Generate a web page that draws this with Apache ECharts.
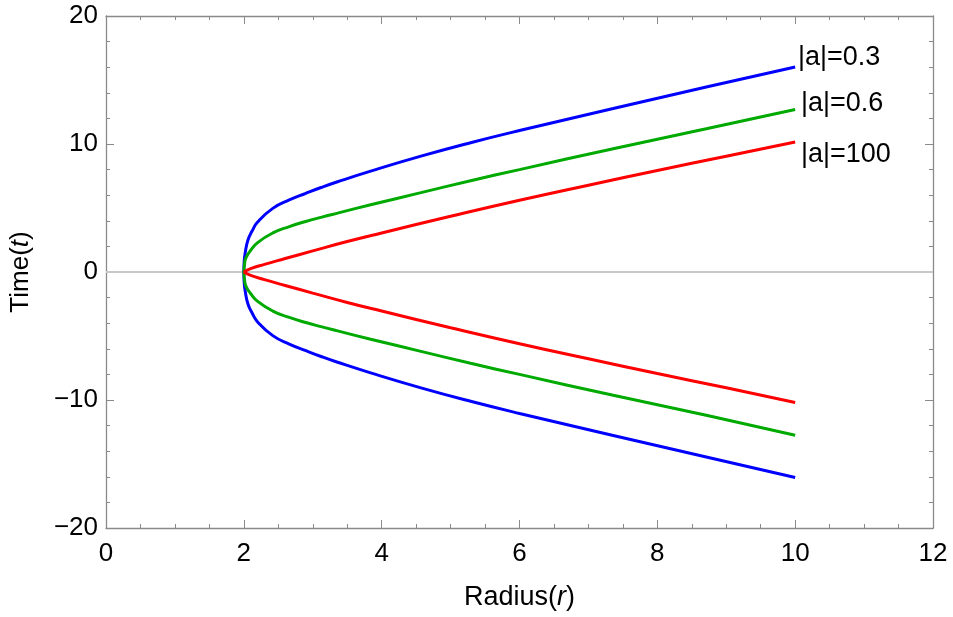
<!DOCTYPE html>
<html>
<head>
<meta charset="utf-8">
<script src="https://cdn.jsdelivr.net/npm/echarts@6/dist/echarts.min.js"></script>
<style>
  html, body { margin: 0; padding: 0; background: #fff; }
  #chart { width: 953px; height: 617px; }
</style>
</head>
<body>
<div id="chart"></div>
<script>
// radius samples and time values (upper and lower branches)
const blueR = [2, 2.005, 2.02, 2.06, 2.12, 2.2, 2.42, 2.66, 2.9, 3.12, 3.36, 3.84, 4.57, 5.29, 6, 7.36, 8.71, 10]
const blueUpper = [0, 0.8, 1.5, 2.5, 3.2, 3.9, 4.97, 5.63, 6.15, 6.6, 7.05, 7.88, 9.05, 10.1, 11.05, 12.77, 14.45, 16.02]
const blueLower = [0, -0.8, -1.5, -2.5, -3.2, -3.9, -4.97, -5.63, -6.15, -6.6, -7.05, -7.88, -9.05, -10.1, -11.05, -12.77, -14.45, -16.05]

const greenR = [2, 2.01, 2.03, 2.1, 2.2, 2.42, 2.66, 2.9, 3.12, 3.36, 3.84, 4.57, 5.29, 6, 7.36, 8.71, 10]
const greenUpper = [0, 0.6, 1.1, 1.7, 2.3, 3.05, 3.55, 3.95, 4.27, 4.6, 5.25, 6.2, 7.13, 8.0, 9.63, 11.19, 12.7]
const greenLower = [0, -0.6, -1.1, -1.7, -2.3, -3.05, -3.55, -3.95, -4.27, -4.6, -5.25, -6.2, -7.13, -8.0, -9.63, -11.19, -12.75]

const redR = [2, 2.1, 2.3, 2.6, 3, 3.5, 4, 5, 6, 7, 8, 9, 10]
const redUpper = [0, 0.27, 0.6, 1.05, 1.65, 2.38, 3.05, 4.35, 5.6, 6.78, 7.93, 9.05, 10.15]
const redLower = [0, -0.27, -0.6, -1.05, -1.65, -2.38, -3.05, -4.35, -5.6, -6.78, -7.93, -9.05, -10.2]

const xTicks = { min: 0, max: 12, interval: 2 }
const yTicks = { min: -20, max: 20, interval: 10 }

const FONT = 'Liberation Sans, Arial, sans-serif'
const AXIS_GRAY = '#8a8a8a'

const pairs = (xs, ys) => xs.map((x, i) => [x, ys[i]])

const curve = (name, color, xs, ys) => ({
  name,
  type: 'line',
  data: pairs(xs, ys),
  showSymbol: false,
  smooth: 0.5,
  lineStyle: { color, width: 3 },
  z: 3
})

const frameAxis = (extra) => Object.assign({
  type: 'value',
  axisLine: { onZero: false, lineStyle: { color: AXIS_GRAY, width: 1.3 } },
  axisTick: { inside: true, length: 8, lineStyle: { color: AXIS_GRAY } },
  minorTick: { show: true, length: 4, lineStyle: { color: AXIS_GRAY } },
  splitLine: { show: false },
  minorSplitLine: { show: false }
}, extra)

const nameRich = (size) => ({
  rich: {
    n: { fontSize: size, fontFamily: FONT, color: '#000' },
    i: { fontSize: size, fontFamily: FONT, color: '#000', fontStyle: 'italic' }
  }
})

const chart = echarts.init(document.getElementById('chart'))

chart.setOption({
  animation: false,
  grid: { left: 104, right: 20, top: 16, bottom: 89 },
  xAxis: [
    frameAxis({
      ...xTicks,
      position: 'bottom',
      minorTick: { show: true, splitNumber: 4, length: 4, lineStyle: { color: AXIS_GRAY } },
      axisLabel: { color: '#000', fontSize: 26, fontFamily: FONT, margin: 13 },
      name: '{n|Radius(}{i|r}{n|)}',
      nameLocation: 'middle',
      nameGap: 56,
      nameTextStyle: nameRich(27)
    }),
    frameAxis({
      ...xTicks,
      position: 'top',
      minorTick: { show: true, splitNumber: 4, length: 4, lineStyle: { color: AXIS_GRAY } },
      axisLabel: { show: false }
    })
  ],
  yAxis: [
    frameAxis({
      ...yTicks,
      position: 'left',
      minorTick: { show: true, splitNumber: 5, length: 4, lineStyle: { color: AXIS_GRAY } },
      axisLabel: {
        color: '#000', fontSize: 26, fontFamily: FONT, margin: 8,
        formatter: (v) => String(v).replace('-', '\u2212')
      },
      name: '{n|Time(}{i|t}{n|)}',
      nameLocation: 'middle',
      nameGap: 72,
      nameTextStyle: nameRich(26)
    }),
    frameAxis({
      ...yTicks,
      position: 'right',
      minorTick: { show: true, splitNumber: 5, length: 4, lineStyle: { color: AXIS_GRAY } },
      axisLabel: { show: false }
    })
  ],
  series: [
    Object.assign(curve('|a|=0.3', '#0000ff', blueR, blueUpper), {
      markLine: {
        silent: true,
        symbol: 'none',
        label: { show: false },
        lineStyle: { color: '#c8c8c8', width: 2, type: 'solid' },
        data: [{ yAxis: 0 }],
        z: 1
      }
    }),
    curve('|a|=0.3 lower', '#0000ff', blueR, blueLower),
    curve('|a|=0.6', '#00aa00', greenR, greenUpper),
    curve('|a|=0.6 lower', '#00aa00', greenR, greenLower),
    curve('|a|=100', '#ff0000', redR, redUpper),
    curve('|a|=100 lower', '#ff0000', redR, redLower)
  ],
  graphic: [
    { type: 'text', left: 798, top: 44, style: { text: '|a|=0.3', font: '27px ' + FONT, fill: '#000' } },
    { type: 'text', left: 801, top: 90, style: { text: '|a|=0.6', font: '27px ' + FONT, fill: '#000' } },
    { type: 'text', left: 801, top: 141, style: { text: '|a|=100', font: '27px ' + FONT, fill: '#000' } }
  ]
})

window.addEventListener('resize', () => {
  chart.resize()
})
</script>
</body>
</html>
